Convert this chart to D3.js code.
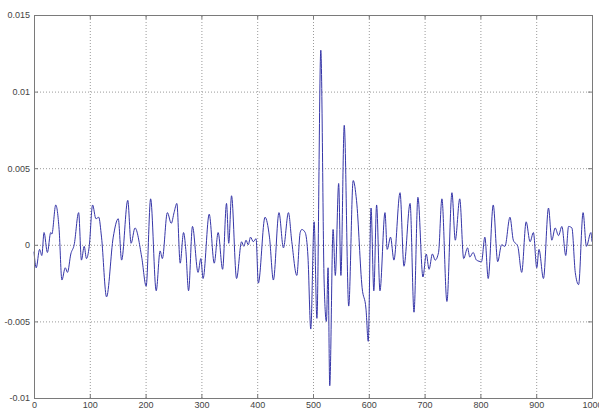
<!DOCTYPE html>
<html>
<head>
<meta charset="utf-8">
<script src="https://cdn.jsdelivr.net/npm/d3@7"></script>
<style>
  body { margin: 0; background: #fff; }
  svg { display: block; }
  .tick text { font-family: "Liberation Sans", Arial, sans-serif; font-size: 9px; fill: #444; }
</style>
</head>
<body>
<script>
// Canvas setup
const canvasWidth = 599;
const canvasHeight = 409;

// tick labels
const xTicks = [0, 100, 200, 300, 400, 500, 600, 700, 800, 900, 1000];
const yTicks = [-0.01, -0.005, 0, 0.005, 0.01, 0.015];

// signal: sample index and amplitude at each turning point
const sampleIdx = [
  0, 4, 10, 14, 18, 24, 30, 32, 39, 45, 50, 56, 60, 66, 72, 80, 85, 90, 94, 99,
  105, 111, 116, 121, 130, 142, 151, 157, 168, 174, 181, 193, 201, 209, 219, 226, 230, 239,
  246, 251, 256, 262, 268, 272, 277, 284, 294, 299, 303, 314, 323, 330, 338, 345, 349, 354,
  363, 372, 376, 380, 384, 388, 393, 398, 402, 414, 422, 429, 439, 447, 456, 462, 471, 477,
  480, 486, 491, 496, 502, 507, 514, 520, 524, 527, 530, 536, 540, 546, 550, 556, 564, 572,
  578, 588, 595, 599, 604, 609, 614, 620, 629, 633, 639, 645, 656, 663, 674, 681, 688, 697, 703,
  708, 714, 719, 725, 731, 740, 749, 755, 763, 770, 777, 781, 787, 793, 802, 808, 814, 823,
  831, 838, 844, 853, 859, 867, 874, 882, 889, 895, 901, 905, 913, 922, 928, 934, 940, 946,
  953, 958, 964, 970, 976, 984, 990, 998, 1000
];
const amplitude = [
  -0.00045, -0.0015, -0.0003, -0.0007, 0.0008, -0.0005, 0.0008, 0.0007, 0.0026, 0.001, -0.0023, -0.0015, -0.0018, -0.0006, 0.0, 0.0021, -0.001, -0.0001, -0.0009, -0.0001,
  0.0026, 0.0017, 0.0018, 0.0005, -0.0034, 0.0005, 0.0017, -0.001, 0.0029, 0.0001, 0.0011, -0.0008, -0.0027, 0.003, -0.003, -0.0004, -0.0009, 0.0021,
  0.0014, 0.0021, 0.0027, -0.0012, 0.0008, -0.0003, -0.003, 0.0012, -0.0018, -0.0009, -0.0022, 0.002, -0.0012, 0.0008, -0.0016, 0.0027, 0.0001, 0.0032,
  -0.0022, 0.0002, -0.0001, 0.0003, 0.0, 0.0005, 0.0002, 0.0004, -0.0025, 0.0018, 0.0005, -0.0023, 0.0021, -0.0002, 0.0021, 0.0002, -0.002, 0.0008,
  0.001, 0.0008, -0.0008, -0.0055, 0.0015, -0.0048, 0.0127, -0.0025, -0.005, -0.0015, -0.0092, 0.001, -0.002, 0.004, -0.002, 0.0078, -0.004, 0.0042,
  0.0029, -0.0028, -0.0042, -0.0063, 0.0024, -0.003, 0.0026, -0.003, 0.0021, -0.0003, 0.0005, -0.001, 0.0034, -0.0014, 0.0027, -0.0044, 0.0031, -0.0021, -0.0006,
  -0.0016, -0.0006, -0.001, -0.0005, 0.003, -0.0037, 0.0034, 0.0003, 0.003, -0.0009, -0.0002, -0.0008, -0.0005, -0.001, -0.0011, 0.0005, -0.0022, 0.0026,
  -0.0011, 0.0, -0.0001, 0.0018, 0.0003, -0.0001, -0.0018, 0.0015, 0.0002, 0.0008, -0.0015, -0.0003, -0.0022, 0.0024, 0.0003, 0.0011, 0.0006, 0.0012,
  -0.0007, 0.0012, 0.0011, -0.0018, -0.0026, 0.0021, -0.0001, 0.0008, 0.0002
];

const svg = d3.select('body')
    .append('svg')
    .attr('width', canvasWidth)
    .attr('height', canvasHeight);

let margins = { top: 15, bottom: 11, left: 34, right: 7 };
let plotWidth = canvasWidth - margins.left - margins.right;
let plotHeight = canvasHeight - margins.top - margins.bottom;

let plotGroup = svg.append('g')
    .attr('transform', `translate(${margins.left},${margins.top})`);

let xScale = d3.scaleLinear().domain([0, 1000]).range([0, plotWidth]);
let yScale = d3.scaleLinear().domain([-0.01, 0.015]).range([plotHeight, 0]);

// dotted grid
plotGroup.append('g')
    .attr('transform', `translate(0,${plotHeight})`)
    .call(d3.axisBottom(xScale).tickValues(xTicks.slice(1, -1)).tickSize(-plotHeight).tickFormat(''))
    .call(g => g.select('.domain').remove())
    .call(g => g.selectAll('line').attr('stroke', '#9a9a9a').attr('stroke-dasharray', '1,2'));
plotGroup.append('g')
    .call(d3.axisLeft(yScale).tickValues(yTicks.slice(1, -1)).tickSize(-plotWidth).tickFormat(''))
    .call(g => g.select('.domain').remove())
    .call(g => g.selectAll('line').attr('stroke', '#9a9a9a').attr('stroke-dasharray', '1,2'));

// signal
let line = d3.line()
    .x((d, i) => xScale(sampleIdx[i]))
    .y(d => yScale(d))
    .curve(d3.curveMonotoneX);
plotGroup.append('path')
    .datum(amplitude)
    .attr('fill', 'none')
    .attr('stroke', '#3636a8')
    .attr('stroke-width', 1)
    .attr('d', line);

// box with inward ticks (matlab style)
const axisColor = '#7a7a7a';
let styleAxis = g => {
    g.select('.domain').attr('stroke', axisColor);
    g.selectAll('.tick line').attr('stroke', axisColor);
};
plotGroup.append('g')
    .attr('transform', `translate(0,${plotHeight})`)
    .call(d3.axisBottom(xScale).tickValues(xTicks).tickSizeInner(-4).tickSizeOuter(0).tickPadding(4).tickFormat(d3.format('d')))
    .call(styleAxis);
plotGroup.append('g')
    .call(d3.axisTop(xScale).tickValues(xTicks).tickSizeInner(-4).tickSizeOuter(0).tickFormat(''))
    .call(styleAxis);
plotGroup.append('g')
    .call(d3.axisLeft(yScale).tickValues(yTicks).tickSizeInner(-4).tickSizeOuter(0).tickPadding(4).tickFormat(d => d === 0 ? '0' : String(+d.toFixed(3))))
    .call(styleAxis);
plotGroup.append('g')
    .attr('transform', `translate(${plotWidth},0)`)
    .call(d3.axisRight(yScale).tickValues(yTicks).tickSizeInner(-4).tickSizeOuter(0).tickFormat(''))
    .call(styleAxis);
</script>
</body>
</html>
